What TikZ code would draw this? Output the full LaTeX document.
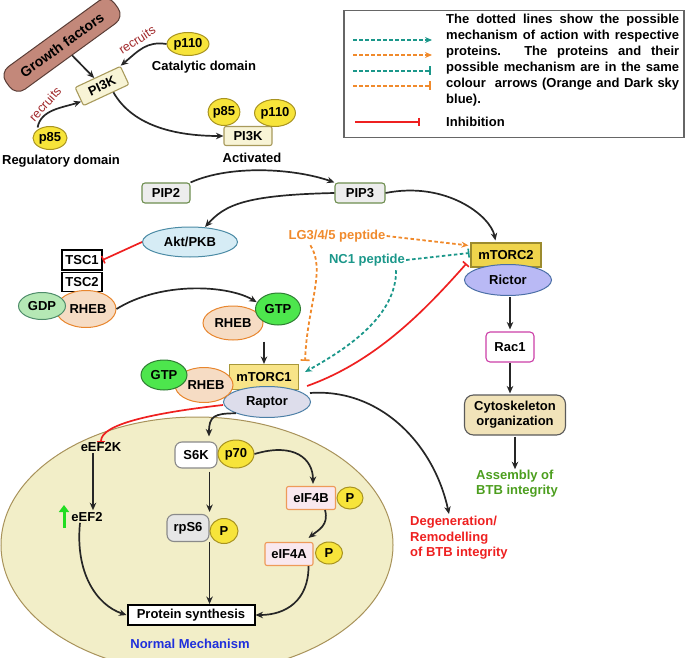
\documentclass[tikz,border=0pt]{standalone}
\usepackage{fontspec}
\setmainfont{Liberation Sans}
\usetikzlibrary{arrows.meta,shapes.geometric,calc}
\definecolor{gfbrown}{HTML}{C3887A}\definecolor{gfborder}{HTML}{5A3D36}
\definecolor{pif}{HTML}{F8F4D6}\definecolor{pib}{HTML}{A89A5C}
\definecolor{yel}{HTML}{F7E43A}\definecolor{yelb}{HTML}{A89320}
\definecolor{pipf}{HTML}{EDEDED}\definecolor{pipb}{HTML}{6E8E50}
\definecolor{aktf}{HTML}{D6ECF5}\definecolor{aktb}{HTML}{4B8BA5}
\definecolor{gdpf}{HTML}{B5E8B5}\definecolor{gdpb}{HTML}{4E8C6A}
\definecolor{rhebf}{HTML}{F6DCC4}\definecolor{rhebb}{HTML}{E8862E}
\definecolor{gtpf}{HTML}{4DE64D}\definecolor{gtpb}{HTML}{2E7D32}
\definecolor{mtaf}{HTML}{F8E488}\definecolor{mtab}{HTML}{A8983A}
\definecolor{raptf}{HTML}{DDDDEB}\definecolor{raptb}{HTML}{4C7FA6}
\definecolor{mtbf}{HTML}{EFD44C}\definecolor{mtbb}{HTML}{9C8B2E}
\definecolor{rictf}{HTML}{B9B9F5}\definecolor{rictb}{HTML}{4B6FA6}
\definecolor{racb}{HTML}{CC3FA8}
\definecolor{cytf}{HTML}{F1E3B9}\definecolor{cytb}{HTML}{5A5A5A}
\definecolor{cellf}{HTML}{F2EEC8}\definecolor{cellb}{HTML}{A8925A}
\definecolor{eiff}{HTML}{F9E8EF}\definecolor{eifb}{HTML}{EE9A5A}
\definecolor{rpsf}{HTML}{E6E6E6}\definecolor{grayb}{HTML}{8A8A8A}
\definecolor{orangec}{HTML}{F08A2C}\definecolor{tealc}{HTML}{1B978A}
\definecolor{redc}{HTML}{EE2020}\definecolor{greent}{HTML}{4C9E1E}
\definecolor{bluet}{HTML}{1F2FDC}\definecolor{recc}{HTML}{A0282A}
\definecolor{upg}{HTML}{22DD22}
\begin{document}
\begin{tikzpicture}[x=1pt,y=-1pt,
  fnt/.style={font=\bfseries\fontsize{13}{15}\selectfont},
  ell/.style={ellipse,draw,fnt,inner sep=0pt,line width=1pt},
  rbox/.style={rectangle,draw,fnt,inner sep=0pt,line width=1.1pt},
  yell/.style={ell,fill=yel,draw=yelb},
  arr/.style={-{Stealth[length=7.5pt,width=6.5pt]},line width=1.7pt,draw=black!85},
  inh/.style={redc,line width=1.7pt,-{Bar[width=8pt,line width=1.6pt]}},
  odash/.style={orangec,line width=1.8pt,dash pattern=on 3.5pt off 2.5pt},
  tdash/.style={tealc,line width=1.8pt,dash pattern=on 3.5pt off 2.5pt},
  otip/.style={-{Stealth[length=7pt,width=6pt]}},
  ttee/.style={-{Bar[width=9pt,line width=1.6pt]}},
  rec/.style={text=recc,font=\fontsize{12.5}{14}\selectfont}
]
\useasboundingbox (0,0) rectangle (685,658);

% big cell ellipse
\node[ellipse,draw=cellb,fill=cellf,line width=1pt,minimum width=392pt,minimum height=256pt,inner sep=0pt] (cell) at (197,545) {};

% legend
\node[draw=black!60,line width=1.5pt,minimum width=340pt,minimum height=127pt,anchor=north west,inner sep=0pt] (leg) at (343,10) {};
\node[anchor=north west,inner sep=0pt,align=left,font=\bfseries\fontsize{13}{16}\selectfont] (legtext) at (446,14)
 {\makebox[233pt][s]{The dotted lines show the possible}\\
  \makebox[233pt][s]{mechanism of action with respective}\\
  \makebox[233pt][s]{proteins. The proteins and their}\\
  \makebox[233pt][s]{possible mechanism are in the same}\\
  \makebox[233pt][s]{colour \ arrows (Orange and Dark sky}\\
  blue).};
\node[anchor=west,inner sep=0pt,fnt] (leginh) at (446,122) {Inhibition};
\coordinate (la1) at (353,40); \coordinate (la2) at (432,40);
\coordinate (lb1) at (353,55); \coordinate (lb2) at (432,55);
\coordinate (lc1) at (353,71); \coordinate (lc2) at (431,71);
\coordinate (ld1) at (353,86); \coordinate (ld2) at (431,86);
\coordinate (le1) at (355,122); \coordinate (le2) at (420,122);
\draw[tdash,otip] (la1) -- (la2);
\draw[odash,otip] (lb1) -- (lb2);
\draw[tdash,ttee] (lc1) -- (lc2);
\draw[odash,ttee] (ld1) -- (ld2);
\draw[inh] (le1) -- (le2);

% PI3K activation
\node[rectangle,rounded corners=11pt,fill=gfbrown,draw=gfborder,line width=1pt,rotate=36,minimum width=134pt,minimum height=28pt,inner sep=0pt,font=\bfseries\fontsize{14}{16}\selectfont] (gf) at (62,45) {Growth factors};
\node[rbox,fill=pif,draw=pib,rounded corners=2pt,rotate=25,minimum width=50pt,minimum height=20pt] (pi3k) at (102,86) {PI3K};
\node[yell,minimum width=42pt,minimum height=23pt] (p110) at (188,44) {p110};
\node[fnt,inner sep=1pt] (catlab) at (204,67) {Catalytic domain};
\node[yell,minimum width=34pt,minimum height=23pt] (p85) at (50,138) {p85};
\node[fnt,inner sep=1pt] (reglab) at (61,161) {Regulatory domain};
\node[rec,rotate=33] (rec1) at (137,40) {recruits};
\node[rec,rotate=48] (rec2) at (45,104) {recruits};
\node[rbox,fill=pif,draw=pib,rounded corners=2pt,minimum width=48pt,minimum height=19pt] (api3k) at (248,136) {PI3K};
\node[yell,minimum width=30pt,minimum height=27pt] (ap85) at (224,112) {p85};
\node[yell,minimum width=40pt,minimum height=27pt] (ap110) at (275,113) {p110};
\node[fnt,inner sep=1pt] (actlab) at (252,158) {Activated};

\draw[arr] (gf) -- (pi3k);
\draw[arr] (p110.west) .. controls +(-20,-3) and +(18,-15) .. (pi3k.north east);
\draw[arr] ($(p85.north west)+(0,-2)$) .. controls +(3,-18) and +(-18,6) .. ($(pi3k.west)!0.5!(pi3k.south west)$);
\draw[arr] ($(pi3k.south)!0.3!(pi3k.south east)$) .. controls +(20,35) and +(-45,0) .. (api3k.west);

% PIP / Akt
\node[rbox,fill=pipf,draw=pipb,rounded corners=3pt,minimum width=48pt,minimum height=20pt] (pip2) at (166,193) {PIP2};
\node[rbox,fill=pipf,draw=pipb,rounded corners=3pt,minimum width=50pt,minimum height=20pt] (pip3) at (360,193) {PIP3};
\node[ell,fill=aktf,draw=aktb,minimum width=95pt,minimum height=30pt] (akt) at (190,242) {Akt/PKB};
\draw[arr] (pip2.north east) .. controls +(40,-18) and +(-40,-14) .. (pip3.north west);
\draw[arr] (pip3.west) .. controls +(-90,2) and +(20,-22) .. ($(akt.north)+(15,0.5)$);

% TSC / RHEB
\node[rbox,fill=white,minimum width=40pt,minimum height=20pt] (tsc1) at (82,260) {TSC1};
\node[rbox,fill=white,minimum width=40pt,minimum height=19pt] (tsc2) at (82,282) {TSC2};
\node[ell,fill=rhebf,draw=rhebb,minimum width=60pt,minimum height=37pt] (rheb1) at (86,309) {\hspace{4pt}RHEB};
\node[ell,fill=gdpf,draw=gdpb,minimum width=47pt,minimum height=27pt] (gdp) at (42,306) {GDP};
\draw[inh] (akt.west) -- (tsc1.east);
\node[ell,fill=rhebf,draw=rhebb,minimum width=60pt,minimum height=34pt] (rheb2) at (233,323) {RHEB};
\node[ell,fill=gtpf,draw=gtpb,minimum width=45pt,minimum height=32pt] (gtp2) at (278,309) {GTP};
\draw[arr,shorten >=2pt] (rheb1.east) .. controls +(45,-28) and +(-30,-18) .. ($(gtp2.west)!0.5!(gtp2.north west)$);

% mTORC1 complex
\node[rbox,fill=mtaf,draw=mtab,minimum width=69pt,minimum height=25pt] (mtorc1) at (264,377) {mTORC1};
\node[ell,fill=raptf,draw=raptb,minimum width=87pt,minimum height=31pt] (raptor) at (267,402) {Raptor};
\node[ell,fill=rhebf,draw=rhebb,minimum width=58pt,minimum height=35pt] (rheb3) at (204,385) {\hspace{4pt}RHEB};
\node[ell,fill=gtpf,draw=gtpb,minimum width=46pt,minimum height=30pt] (gtp3) at (164,375) {GTP};
\draw[arr,shorten <=1pt] (mtorc1.north |- rheb2.south) -- (mtorc1.north);

% mTORC2 branch
\node[rbox,fill=mtbf,draw=mtbb,minimum width=70pt,minimum height=24pt] (mtorc2) at (506,255) {mTORC2};
\node[ell,fill=rictf,draw=rictb,minimum width=87pt,minimum height=31pt] (rictor) at (508,280) {Rictor};
\node[rbox,fill=white,draw=racb,rounded corners=4pt,minimum width=48pt,minimum height=30pt] (rac1) at (510,347) {Rac1};
\node[rbox,fill=cytf,draw=cytb,rounded corners=9pt,minimum width=101pt,minimum height=40pt,align=center,font=\bfseries\fontsize{13}{15}\selectfont] (cyto) at (515,415) {Cytoskeleton\\organization};
\node[align=left,text=greent,fnt,inner sep=1pt] (asm) at (517,484) {Assembly of\\BTB integrity};
\draw[arr,shorten <=1pt,shorten >=2pt] (rac1.north |- rictor.south) -- (rac1.north);
\draw[arr,shorten >=1pt] (rac1.south) -- (rac1.south |- cyto.north);
\draw[arr,shorten <=1pt] (cyto.south) -- (cyto.south |- asm.north);
\draw[arr] (pip3.east) .. controls +(60,-12) and +(-5,-25) .. ($(mtorc2.north west)+(25,-2)$);

% peptides
\node[text=orangec,fnt,inner sep=1pt] (lg) at (337,236) {LG3/4/5 peptide};
\node[text=tealc,fnt,inner sep=1pt] (nc1) at (367,260) {NC1 peptide};
\draw[odash,otip] (lg.east) -- ($(mtorc2.north west)+(-2,3)$);
\draw[tdash,ttee] (nc1.east) -- ($(mtorc2.west)+(-1,-2)$);
\draw[odash,ttee] ($(lg.south west)+(23,2)$) .. controls +(16,25) and +(2,-55) .. ($(mtorc1.north east)+(6,-3)$);
\draw[tdash,otip] ($(nc1.south east)+(-10,3)$) .. controls +(0,45) and +(45,-25) .. ($(mtorc1.north east)+(6,8)$);
\draw[inh] ($(mtorc1.east)+(8,9)$) .. controls +(70,-25) and +(-40,45) .. ($(mtorc2.south west)+(-4,-4)$);

% degeneration
\node[anchor=north west,align=left,text=redc,inner sep=0pt,font=\bfseries\fontsize{13}{15.5}\selectfont] (degen) at (410,516) {Degeneration/\\Remodelling\\of BTB integrity};
\draw[arr] ($(raptor.east)+(-1,-9)$) .. controls +(70,-5) and +(-15,-70) .. ($(degen.north west)+(39,-2)$);

% protein synthesis
\node[fnt,inner sep=1pt] (eef2k) at (101,447) {eEF2K};
\node[fnt,inner sep=1pt] (eef2) at (87,517) {eEF2};
\coordinate (gu1) at (64,528); \coordinate (gu2) at (64,505);
\draw[upg,line width=3pt,-{Triangle[length=7pt,width=10pt]}] (gu1) -- (gu2);
\node[rbox,fill=white,draw=grayb,rounded corners=7pt,minimum width=42pt,minimum height=26pt] (s6k) at (196,455) {S6K};
\node[yell,minimum width=36pt,minimum height=28pt] (p70) at (236,454) {p70};
\node[rbox,fill=rpsf,draw=grayb,rounded corners=7pt,minimum width=42pt,minimum height=27pt] (rps6) at (188,528) {rpS6};
\node[yell,minimum width=28pt,minimum height=25pt] (pa) at (224,531) {P};
\node[rbox,fill=eiff,draw=eifb,rounded corners=2pt,minimum width=49pt,minimum height=23pt] (eif4b) at (311,498) {eIF4B};
\node[yell,minimum width=26pt,minimum height=22pt] (pb) at (350,498) {P};
\node[rbox,fill=eiff,draw=eifb,rounded corners=2pt,minimum width=48pt,minimum height=23pt] (eif4a) at (289,554) {eIF4A};
\node[yell,minimum width=27pt,minimum height=22pt] (pc) at (329,553) {P};
\node[rbox,fill=white,line width=2pt,minimum width=127pt,minimum height=20pt] (prot) at (191,615) {Protein synthesis};
\node[text=bluet,fnt,inner sep=1pt] (nm) at (190,644) {Normal Mechanism};

\draw[inh] ($(raptor.west)+(0,3)$) .. controls +(-70,8) and +(0,-18) .. ($(eef2k.north)+(0,1)$);
\draw[arr] (raptor.south west) .. controls +(-22,0) and +(0,-20) .. ($(s6k.north)+(13,-5)$);
\draw[arr,shorten >=1pt] ($(eef2k.south)+(-8,0)$) -- ($(eef2.north)+(6,0)$);
\draw[arr] ($(eef2.south)+(-7,0)$) .. controls +(-5,50) and +(-30,-10) .. (prot.west);
\draw[arr,shorten <=3pt,shorten >=2pt] (s6k.south -| rps6.south east) -- (rps6.north -| rps6.south east);
\draw[arr] (rps6.south east) -- (rps6.south east |- prot.north);
\draw[arr] (p70.east) .. controls +(40,-12) and +(0,-25) .. ($(eif4b.north)+(2,-2)$);
\draw[arr] ($(eif4b.south east)+(-11,0)$) .. controls +(4,15) and +(10,-8) .. ($(eif4a.north east)+(-5,-4)$);
\draw[arr] ($(eif4a.south east)+(-5,0)$) .. controls +(0,35) and +(30,0) .. (prot.east);
\end{tikzpicture}
\end{document}
